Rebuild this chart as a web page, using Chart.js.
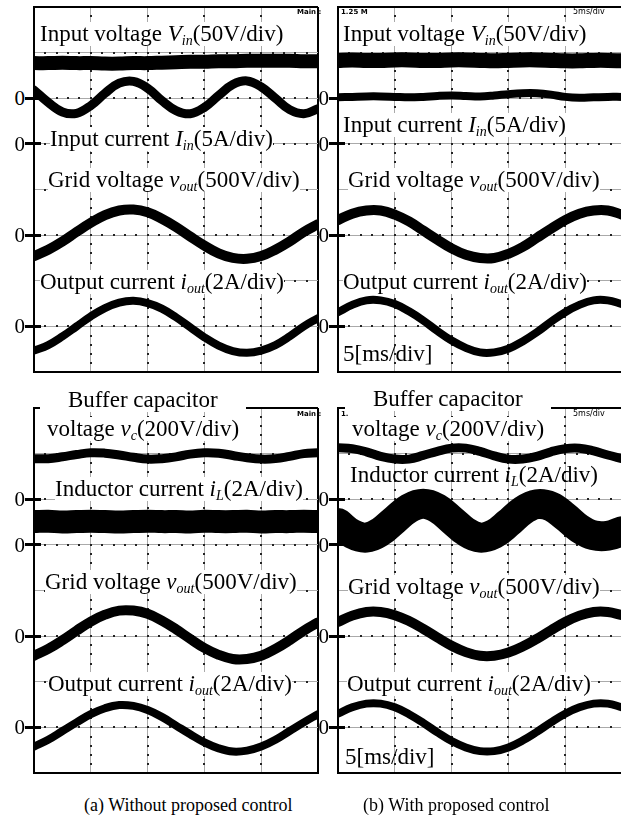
<!DOCTYPE html>
<html>
<head>
<meta charset="utf-8">
<script src="https://cdn.jsdelivr.net/npm/chart.js@4.4.1/dist/chart.umd.min.js"></script>
<style>
  body { margin: 0; background: #fff; }
  #fig { position: relative; width: 621px; height: 816px; overflow: hidden; background: #fff;
         font-family: 'Liberation Serif', 'Times New Roman', serif; color: #000; }
  canvas { position: absolute; }
  .lab { position: absolute; font-size: 23px; line-height: 24px; height: 24px; white-space: nowrap; background: #fff; }
  .lab i { font-style: italic; }
  .sb { font-size: 14px; font-style: italic; vertical-align: -4px; line-height: 0; }
  .zero { position: absolute; font-size: 21px; line-height: 20px; width: 14px; text-align: right; }
  .dash { position: absolute; height: 3px; background: #000; }
  .tiny { position: absolute; font: bold 7px 'DejaVu Sans', sans-serif; line-height: 8px; }
  .cap { position: absolute; font-size: 18px; line-height: 18px; white-space: nowrap; }
</style>
</head>
<body>
<div id="fig">
  <canvas id="aTop" width="292" height="373" style="left:30px;top:3px"></canvas>
  <canvas id="bTop" width="292" height="373" style="left:334px;top:3px"></canvas>
  <canvas id="aBot" width="292" height="373" style="left:30px;top:404px"></canvas>
  <canvas id="bBot" width="292" height="373" style="left:334px;top:404px"></canvas>

  <!-- scope status text -->
  <div class="tiny" style="left:297px;top:8px">Main :</div>
  <div class="tiny" style="left:341px;top:8px">1.25 M</div>
  <div class="tiny" style="left:573px;top:8px;font-weight:normal;font-size:8px">5ms/div</div>
  <div class="tiny" style="left:297px;top:410px">Main :</div>
  <div class="tiny" style="left:341px;top:410px">1.</div>
  <div class="tiny" style="left:573px;top:410px;font-weight:normal;font-size:8px">5ms/div</div>

  <!-- (a) upper screen -->
  <div class="lab" style="left:40px;top:22px">Input voltage <i>V</i><span class="sb">in</span>(50V/div)</div>
  <div class="lab" style="left:50px;top:127px">Input current <i>I</i><span class="sb">in</span>(5A/div)</div>
  <div class="lab" style="left:48px;top:168px">Grid voltage <i>v</i><span class="sb">out</span>(500V/div)</div>
  <div class="lab" style="left:40px;top:270px">Output current <i>i</i><span class="sb">out</span>(2A/div)</div>

  <!-- (b) upper screen -->
  <div class="lab" style="left:343px;top:22px">Input voltage <i>V</i><span class="sb">in</span>(50V/div)</div>
  <div class="lab" style="left:343px;top:113px">Input current <i>I</i><span class="sb">in</span>(5A/div)</div>
  <div class="lab" style="left:348px;top:168px">Grid voltage <i>v</i><span class="sb">out</span>(500V/div)</div>
  <div class="lab" style="left:343px;top:270px">Output current <i>i</i><span class="sb">out</span>(2A/div)</div>
  <div class="lab" style="left:343px;top:342px;background:none">5[ms/div]</div>

  <!-- (a) lower screen -->
  <div class="lab" style="left:40px;top:388px;padding:0 28px">Buffer capacitor</div>
  <div class="lab" style="left:47px;top:417px">voltage <i>v</i><span class="sb">c</span>(200V/div)</div>
  <div class="lab" style="left:55px;top:477px">Inductor current <i>i</i><span class="sb">L</span>(2A/div)</div>
  <div class="lab" style="left:45px;top:570px">Grid voltage <i>v</i><span class="sb">out</span>(500V/div)</div>
  <div class="lab" style="left:48px;top:672px">Output current <i>i</i><span class="sb">out</span>(2A/div)</div>

  <!-- (b) lower screen -->
  <div class="lab" style="left:345px;top:387px;padding:0 28px">Buffer capacitor</div>
  <div class="lab" style="left:352px;top:417px">voltage <i>v</i><span class="sb">c</span>(200V/div)</div>
  <div class="lab" style="left:350px;top:463px;background:none">Inductor current <i>i</i><span class="sb">L</span>(2A/div)</div>
  <div class="lab" style="left:348px;top:575px">Grid voltage <i>v</i><span class="sb">out</span>(500V/div)</div>
  <div class="lab" style="left:347px;top:672px">Output current <i>i</i><span class="sb">out</span>(2A/div)</div>
  <div class="lab" style="left:345px;top:745px;background:none">5[ms/div]</div>

  <div class="cap" style="left:84px;top:796px">(a) Without proposed control</div>
  <div class="cap" style="left:363px;top:796px">(b) With proposed control</div>
</div>

<script>
// time base: 5 ms/div, 5 divisions shown
var T = [0, 1.25, 2.5, 3.75, 5, 6.25, 7.5, 8.75, 10, 11.25, 12.5, 13.75, 15,
         16.25, 17.5, 18.75, 20, 21.25, 22.5, 23.75, 25];

// traces in screen divisions (0 = bottom of screen, 8 = top)
// (a) without proposed control, upper screen
var vinA  = [6.77, 6.77, 6.78, 6.77, 6.77, 6.76, 6.76, 6.77, 6.77, 6.78, 6.79, 6.80, 6.80, 6.81, 6.81, 6.82, 6.82, 6.82, 6.82, 6.81, 6.81];
var iinA  = [6.18, 5.91, 5.70, 5.67, 5.84, 6.11, 6.33, 6.37, 6.22, 5.95, 5.73, 5.66, 5.80, 6.06, 6.30, 6.38, 6.25, 6.00, 5.75, 5.66, 5.77];
var voutA = [2.54, 2.68, 2.86, 3.07, 3.27, 3.44, 3.54, 3.56, 3.50, 3.36, 3.18, 2.97, 2.77, 2.60, 2.50, 2.48, 2.54, 2.68, 2.86, 3.07, 3.24];
var ioutA = [0.47, 0.59, 0.78, 1.00, 1.22, 1.40, 1.52, 1.56, 1.51, 1.39, 1.20, 0.98, 0.76, 0.58, 0.46, 0.42, 0.47, 0.59, 0.78, 1.00, 1.18];

// (b) with proposed control, upper screen
var vinB  = [6.83, 6.84, 6.83, 6.83, 6.84, 6.84, 6.83, 6.83, 6.84, 6.84, 6.83, 6.82, 6.83, 6.84, 6.84, 6.83, 6.82, 6.82, 6.83, 6.83, 6.82];
var iinB  = [6.02, 6.03, 6.04, 6.04, 6.03, 6.02, 6.03, 6.05, 6.06, 6.05, 6.04, 6.06, 6.09, 6.11, 6.11, 6.08, 6.03, 6.01, 6.02, 6.03, 6.03];
var voutB = [3.33, 3.47, 3.54, 3.54, 3.45, 3.30, 3.10, 2.90, 2.71, 2.57, 2.50, 2.50, 2.59, 2.74, 2.94, 3.14, 3.33, 3.47, 3.54, 3.54, 3.45];
var ioutB = [1.31, 1.47, 1.57, 1.57, 1.49, 1.33, 1.13, 0.90, 0.69, 0.53, 0.43, 0.43, 0.51, 0.67, 0.87, 1.10, 1.31, 1.47, 1.57, 1.57, 1.49];

// (a) lower screen
var vcA    = [6.89, 6.89, 6.93, 6.98, 7.02, 7.01, 6.97, 6.92, 6.88, 6.89, 6.93, 6.99, 7.02, 7.01, 6.96, 6.91, 6.88, 6.89, 6.94, 7.00, 7.02];
var ilA    = [5.51, 5.52, 5.50, 5.51, 5.52, 5.51, 5.50, 5.51, 5.52, 5.51, 5.51, 5.50, 5.52, 5.51, 5.51, 5.52, 5.50, 5.51, 5.51, 5.52, 5.51];
var voutA2 = [2.57, 2.72, 2.91, 3.12, 3.32, 3.47, 3.56, 3.56, 3.49, 3.34, 3.15, 2.94, 2.74, 2.59, 2.50, 2.50, 2.57, 2.72, 2.91, 3.12, 3.30];
var ioutA2 = [0.58, 0.73, 0.92, 1.11, 1.29, 1.42, 1.49, 1.47, 1.38, 1.23, 1.04, 0.85, 0.67, 0.54, 0.47, 0.49, 0.58, 0.73, 0.92, 1.11, 1.29];

// (b) lower screen
var vcB    = [7.13, 7.11, 7.04, 6.94, 6.88, 6.88, 6.96, 7.05, 7.12, 7.12, 7.05, 6.95, 6.88, 6.88, 6.94, 7.04, 7.11, 7.12, 7.06, 6.97, 6.89];
var ilB    = [5.48, 5.24, 5.16, 5.29, 5.55, 5.80, 5.90, 5.80, 5.55, 5.29, 5.16, 5.24, 5.48, 5.75, 5.89, 5.84, 5.62, 5.36, 5.21, 5.20, 5.30];
var voutB2 = [3.31, 3.45, 3.53, 3.53, 3.46, 3.33, 3.16, 2.97, 2.79, 2.65, 2.57, 2.57, 2.64, 2.77, 2.94, 3.13, 3.31, 3.45, 3.53, 3.53, 3.46];
var ioutB2 = [1.30, 1.44, 1.52, 1.52, 1.44, 1.29, 1.10, 0.89, 0.70, 0.56, 0.48, 0.48, 0.56, 0.71, 0.90, 1.11, 1.30, 1.44, 1.52, 1.52, 1.44];

// screen divisions where each channel's ground marker sits
var zeroDivs = [6, 5, 3, 1];

// dotted graticule: small dots every 1/5 division along the inner division lines
var graticule = {
  id: 'graticule',
  beforeDatasetsDraw: function (chart) {
    var ctx = chart.ctx, x = chart.scales.x, y = chart.scales.y;
    ctx.save();
    ctx.fillStyle = '#222';
    for (var v = 5; v < 25; v += 5) {
      var px = Math.round(x.getPixelForValue(v));
      for (var d = 0.2; d < 7.95; d += 0.2) {
        ctx.fillRect(px - 1, Math.round(y.getPixelForValue(d)) - 1, 2, 2);
      }
    }
    for (var k = 1; k < 8; k++) {
      var py = Math.round(y.getPixelForValue(k));
      for (var t = 1; t < 25; t += 1) {
        ctx.fillRect(Math.round(x.getPixelForValue(t)) - 1, py - 1, 2, 2);
      }
    }
    ctx.restore();
  }
};

function edge(c) {
  return c.tick && (c.tick.value === c.scale.min || c.tick.value === c.scale.max);
}

function scope(id, traces) {
  return new Chart(document.getElementById(id), {
    type: 'line',
    data: {
      datasets: traces.map(function (tr) {
        return {
          data: T.map(function (t, i) { return { x: t, y: tr[0][i] }; }),
          borderColor: '#000',
          borderWidth: tr[1],
          borderJoinStyle: 'round',
          borderCapStyle: 'round',
          tension: 0.4,
          pointRadius: 0,
          clip: 0
        };
      })
    },
    options: {
      responsive: false,
      animation: false,
      events: [],
      layout: { padding: 4 },
      plugins: { legend: { display: false }, tooltip: { enabled: false } },
      scales: {
        x: {
          type: 'linear', min: 0, max: 25,
          afterFit: function (s) { s.height = 0; },
          ticks: { display: false, stepSize: 5 },
          grid: {
            drawTicks: false,
            color: function (c) { return edge(c) ? '#000' : '#aaa'; },
            lineWidth: function (c) { return edge(c) ? 2 : 1; }
          },
          border: { color: '#000', width: 2 }
        },
        y: {
          min: 0, max: 8,
          afterFit: function (s) { s.width = 0; },
          ticks: { display: false, stepSize: 1 },
          grid: {
            drawTicks: false,
            color: function (c) { return edge(c) ? '#000' : '#aaa'; },
            lineWidth: function (c) { return edge(c) ? 2 : 1; }
          },
          border: { color: '#000', width: 2 }
        }
      }
    },
    plugins: [graticule]
  });
}

var charts = [
  scope('aTop', [[vinA, 14], [iinA, 9], [voutA, 10], [ioutA, 8]]),
  scope('bTop', [[vinB, 15], [iinB, 8], [voutB, 10], [ioutB, 8]]),
  scope('aBot', [[vcA, 9], [ilA, 23], [voutA2, 10], [ioutA2, 8]]),
  scope('bBot', [[vcB, 9], [ilB, 30], [voutB2, 10], [ioutB2, 8]])
];

// ground markers "0-" to the left of each screen, placed from the y scale
var fig = document.getElementById('fig');
charts.forEach(function (ch) {
  var cv = ch.canvas;
  var ox = parseFloat(cv.style.left), oy = parseFloat(cv.style.top);
  var left = ch.chartArea.left + ox;
  zeroDivs.forEach(function (d) {
    var py = oy + ch.scales.y.getPixelForValue(d);
    var z = document.createElement('div');
    z.className = 'zero';
    z.textContent = '0';
    z.style.left = (left - 23) + 'px';
    z.style.top = (py - 10) + 'px';
    fig.appendChild(z);
    var m = document.createElement('div');
    m.className = 'dash';
    m.style.left = (left - 9) + 'px';
    m.style.width = '16px';
    m.style.top = (py - 1.5) + 'px';
    fig.appendChild(m);
  });
});
</script>
</body>
</html>
